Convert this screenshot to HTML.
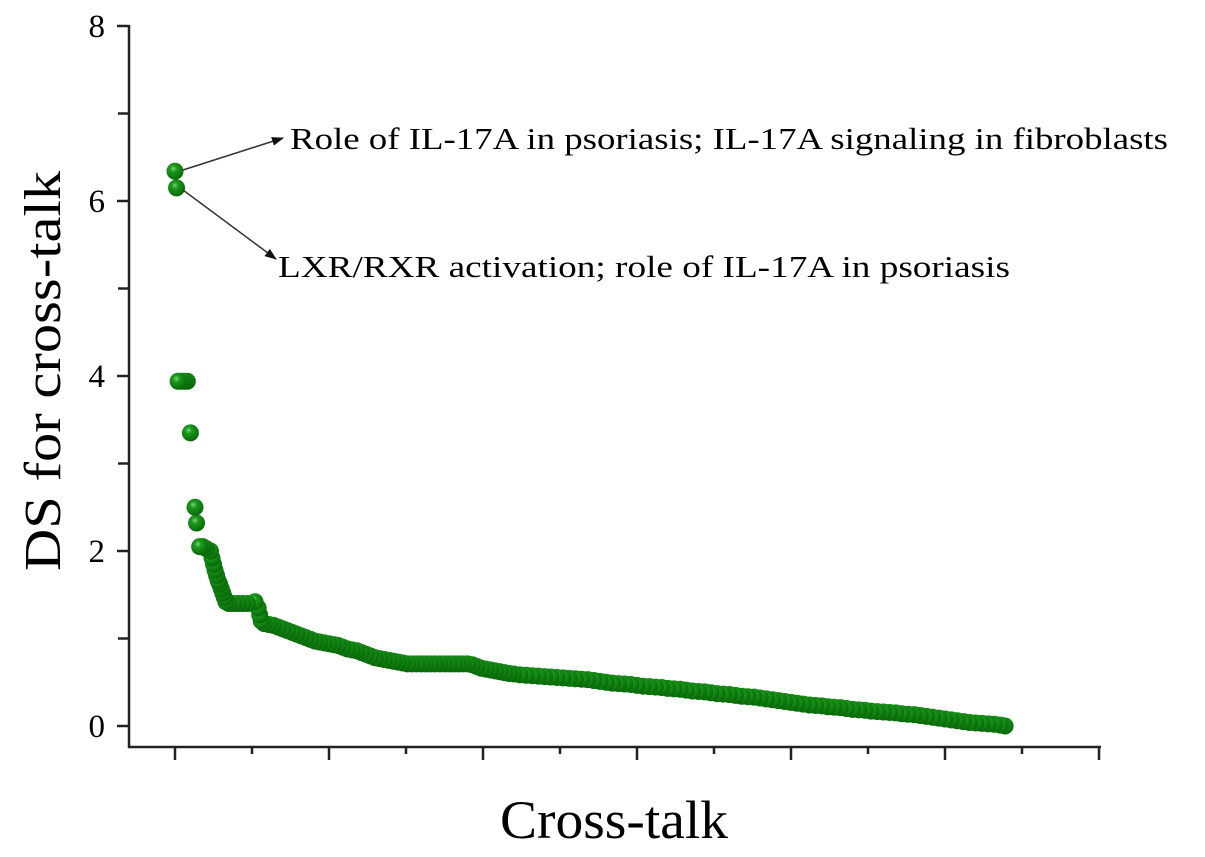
<!DOCTYPE html>
<html><head><meta charset="utf-8"><style>
html,body{margin:0;padding:0;background:#fff;}
svg{display:block;font-family:"Liberation Serif",serif;}
</style></head><body>
<svg id="chart" width="1205" height="857" viewBox="0 0 1205 857" xmlns="http://www.w3.org/2000/svg">
<defs>
<radialGradient id="ball" cx="0.4" cy="0.35" r="0.65">
<stop offset="0" stop-color="#7fd07f"/>
<stop offset="0.3" stop-color="#1b9a1b"/>
<stop offset="1" stop-color="#086808"/>
</radialGradient>
<marker id="arrow" markerWidth="12" markerHeight="9" refX="11" refY="4.5" orient="auto" markerUnits="userSpaceOnUse">
<path d="M0,0 L12,4.5 L0,9 z" fill="#111"/>
</marker>
</defs>
<g id="points"></g>
<g id="axes"></g>
<line x1="183" y1="170" x2="283" y2="138" stroke="#333" stroke-width="1.5" marker-end="url(#arrow)"/>
<line x1="183" y1="190" x2="276" y2="259" stroke="#333" stroke-width="1.5" marker-end="url(#arrow)"/>
<text x="290" y="149" font-size="31" textLength="878" lengthAdjust="spacingAndGlyphs">Role of IL-17A in psoriasis; IL-17A signaling in fibroblasts</text>
<text x="278" y="277" font-size="31" textLength="732" lengthAdjust="spacingAndGlyphs">LXR/RXR activation; role of IL-17A in psoriasis</text>
<text transform="translate(60,371) rotate(-90)" text-anchor="middle" font-size="52" textLength="400" lengthAdjust="spacingAndGlyphs">DS for cross-talk</text>
<text x="614" y="838" text-anchor="middle" font-size="54" textLength="228" lengthAdjust="spacingAndGlyphs">Cross-talk</text>
</svg>
<script>
const idx = [0,1,2,4,6,8,10,13,14,16,18,20,23,24,25,26,27,28,29,30,31,32,33,35,38,41,44,47,52,54,55,56,58,61,64,67,70,73,76,79,82,85,88,91,94,97,100,103,106,109,112,115,118,121,124,127,130,133,136,139,142,145,148,151,154,157,160,163,166,169,172,175,178,181,184,187,190,193,196,199,202,205,208,211,214,217,220,224,228,232,236,240,244,248,252,256,260,264,268,272,276,280,284,288,292,296,300,304,308,312,316,320,324,328,332,336,340,344,348,352,356,360,364,368,372,376,380,384,388,392,396,400,404,408,412,416,420,424,428,432,436,440,444,448,452,456,460,464,468,472,476,480,484,488,492,496,500,504,508,512,516,520,524,528,532,536,539];
const ds = [6.34,6.15,3.94,3.94,3.94,3.94,3.35,2.5,2.32,2.05,2.05,2.03,2.0,1.92,1.85,1.78,1.72,1.66,1.62,1.57,1.52,1.47,1.42,1.40,1.40,1.40,1.40,1.40,1.42,1.35,1.27,1.2,1.17,1.16,1.15,1.13,1.11,1.09,1.07,1.05,1.03,1.01,0.99,0.97,0.96,0.95,0.94,0.93,0.92,0.90,0.88,0.87,0.86,0.84,0.82,0.80,0.78,0.77,0.76,0.75,0.74,0.73,0.72,0.71,0.71,0.71,0.71,0.71,0.71,0.71,0.71,0.71,0.71,0.71,0.71,0.71,0.71,0.70,0.68,0.66,0.65,0.64,0.63,0.62,0.61,0.60,0.595,0.585,0.58,0.575,0.57,0.565,0.56,0.555,0.55,0.545,0.54,0.535,0.53,0.52,0.51,0.50,0.49,0.485,0.48,0.475,0.465,0.455,0.45,0.445,0.44,0.43,0.425,0.42,0.41,0.40,0.395,0.39,0.38,0.37,0.365,0.36,0.35,0.34,0.335,0.33,0.32,0.31,0.30,0.29,0.28,0.27,0.26,0.25,0.24,0.235,0.23,0.22,0.215,0.21,0.20,0.19,0.185,0.18,0.17,0.165,0.16,0.155,0.15,0.14,0.135,0.13,0.12,0.11,0.10,0.09,0.08,0.07,0.06,0.05,0.04,0.035,0.03,0.025,0.02,0.01,0.0];
const yTicks = [0,2,4,6,8];
const yMinorTicks = [1,3,5,7];
const xMajorTicks = [0,100,200,300,400,500,600];
const xMinorTicks = [50,150,250,350,450,550];

const NS = "http://www.w3.org/2000/svg";
const X0 = 175, XS = 1.54, Y0 = 726, YS = 87.5;
function xPos(i){ return X0 + i * XS; }
function yPos(v){ return Y0 - v * YS; }
function mk(tag, attrs, parent){ const e = document.createElementNS(NS, tag); for (const k in attrs) e.setAttribute(k, attrs[k]); parent.appendChild(e); return e; }

const pg = document.getElementById('points');
for (let k = idx.length - 1; k >= 0; k--) {
  const c = mk('circle', {cx: xPos(idx[k]), cy: yPos(ds[k]), r: 8.5, fill: 'url(#ball)'}, pg);
  
  
}

const ag = document.getElementById('axes');
const yAxis = mk('line', {x1:129, y1:25, x2:129, y2:748, stroke:'#222', 'stroke-width':2.5}, ag);


const xAxis = mk('line', {x1:128, y1:747, x2:1101, y2:747, stroke:'#222', 'stroke-width':2.5}, ag);


yTicks.forEach(v => {
  const t = mk('line', {x1:117, y1:yPos(v), x2:129, y2:yPos(v), stroke:'#222', 'stroke-width':2.5}, ag);
  
  
  const l = mk('text', {x:105, y:yPos(v)+11, 'text-anchor':'end', 'font-size':33}, ag);
  l.textContent = v;
  
  
});
yMinorTicks.forEach(v => {
  const t = mk('line', {x1:118, y1:yPos(v), x2:129, y2:yPos(v), stroke:'#222', 'stroke-width':2.5}, ag);
  
  
});
xMajorTicks.forEach(v => {
  const t = mk('line', {x1:xPos(v), y1:747, x2:xPos(v), y2:760, stroke:'#222', 'stroke-width':2.5}, ag);
  
  
});
xMinorTicks.forEach(v => {
  const t = mk('line', {x1:xPos(v), y1:747, x2:xPos(v), y2:754, stroke:'#222', 'stroke-width':2.5}, ag);
  
  
});
</script>
</body></html>
